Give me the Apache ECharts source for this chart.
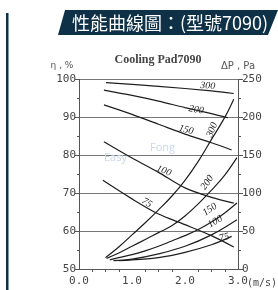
<!DOCTYPE html>
<html><head><meta charset="utf-8">
<script src="https://cdn.jsdelivr.net/npm/echarts@6/dist/echarts.min.js"></script>
<style>html,body{margin:0;padding:0;background:#fff}#c{width:278px;height:290px}</style>
</head><body><div id="c"></div>
<script>
// ---- data ----
const title = '性能曲線圖：(型號7090)';
const chartTitle = 'Cooling Pad7090';
const xTicks = [0, 1, 2, 3];
const effTicks = [50, 60, 70, 80, 90, 100];
const dpTicks = [0, 50, 100, 150, 200, 250];
// efficiency (%) vs face velocity (m/s), by pad thickness (mm)
const eff300 = [[0.51,99.2],[1.5,98.2],[2.5,97.0],[2.92,96.3]];
const eff200 = [[0.47,97.2],[1.0,95.8],[1.5,94.3],[2.0,92.6],[2.5,91.0],[2.81,89.9]];
const eff150 = [[0.47,93.3],[1.0,90.8],[1.5,88.2],[2.0,85.6],[2.5,83.3],[2.88,81.4]];
const eff100 = [[0.47,83.6],[1.0,79.3],[1.5,75.5],[2.0,71.4],[2.5,68.9],[2.92,67.4]];
const eff75  = [[0.45,73.4],[1.0,68.5],[1.5,64.5],[2.0,61.7],[2.5,58.8],[2.92,55.8]];
// pressure drop (Pa) vs face velocity (m/s)
const dp300 = [[0.5,15],[0.75,29],[1.0,45],[1.25,61],[1.5,78],[1.75,96],[2.0,117],[2.25,142],[2.5,171],[2.75,200],[2.92,224]];
const dp200 = [[0.52,14],[0.75,21],[1.0,30],[1.25,39],[1.5,48],[1.75,57],[2.0,70],[2.25,86],[2.5,104],[2.75,124],[2.98,147]];
const dp150 = [[0.58,12],[0.75,15],[1.0,19],[1.25,24],[1.5,30],[1.75,37],[2.0,44],[2.25,52],[2.5,62],[2.75,74],[2.98,87]];
const dp100 = [[0.65,11],[1.0,13],[1.5,20],[2.0,30],[2.5,45],[2.98,65]];
const dp75  = [[0.75,11],[1.0,12],[1.5,15],[2.0,22],[2.5,32],[2.88,43]];
// curve labels: [text, x(m/s), y(on % axis), rotation deg]
const curveLabels = [
  ['300',2.43,98.3,-5],['200',2.21,92.0,-10],['150',2.02,86.7,-15],['100',1.60,75.9,-22],['75',1.28,67.5,-32],
  ['300',2.51,86.7,68],['200',2.42,72.8,55],['150',2.47,65.7,35],['100',2.57,62.5,30],['75',2.74,58.3,15]
];

const C = '#1e1e1e';
function effSeries(d){return {type:'line',yAxisIndex:0,data:d,symbol:'none',smooth:0.3,lineStyle:{color:C,width:1.2},silent:true};}
function dpSeries(d){return {type:'line',yAxisIndex:1,data:d,symbol:'none',smooth:0.4,lineStyle:{color:C,width:1.2},silent:true};}

const chart = echarts.init(document.getElementById('c'), null, {renderer:'canvas'});
const axisFont = {fontFamily:'DejaVu Sans Mono', fontSize:11, color:'#444'};
chart.setOption({
  animation:false,
  grid:{left:79,right:40,top:79.5,bottom:21,containLabel:false},
  xAxis:{type:'value',min:0,max:3,interval:1,
    axisLine:{onZero:false,lineStyle:{color:'#555',width:1}},
    axisTick:{show:false},
    minorTick:{show:true,splitNumber:4,length:3,lineStyle:{color:'#555'}},
    splitLine:{show:false},
    axisLabel:Object.assign({margin:7,formatter:v=>v.toFixed(1)},axisFont)
  },
  yAxis:[
    {type:'value',min:50,max:100,interval:10,position:'left',
      axisLine:{show:true,lineStyle:{color:'#555',width:1}},
      axisTick:{show:true,length:4,lineStyle:{color:'#555'}},
      minorTick:{show:true,splitNumber:2,length:2,lineStyle:{color:'#555'}},
      splitLine:{show:true,lineStyle:{color:'#777',width:1}},
      axisLabel:Object.assign({margin:3},axisFont)},
    {type:'value',min:0,max:250,interval:50,position:'right',
      axisLine:{show:true,lineStyle:{color:'#555',width:1}},
      axisTick:{show:true,length:5,lineStyle:{color:'#555'}},
      minorTick:{show:true,splitNumber:2,length:3,lineStyle:{color:'#555'}},
      splitLine:{show:false},
      axisLabel:Object.assign({margin:4},axisFont)}
  ],
  series:[effSeries(eff300),effSeries(eff200),effSeries(eff150),effSeries(eff100),effSeries(eff75),
          dpSeries(dp300),dpSeries(dp200),dpSeries(dp150),dpSeries(dp100),dpSeries(dp75)]
});

const g = [];
// left accent bar
g.push({type:'rect',shape:{x:6,y:13,width:2.5,height:277},style:{fill:'#0e3147'},silent:true});
// title banner
g.push({type:'polygon',shape:{points:[[65,10],[278,10],[268,35],[58,35]]},style:{fill:'#0e3147'},silent:true});
g.push({type:'text',x:170,y:23,style:{text:title,fill:'#fff',font:'18px "Noto Sans CJK TC"',align:'center',verticalAlign:'middle'},silent:true});
// watermark
g.push({type:'text',x:104,y:158,style:{text:'Easy',fill:'#c9d6ea',font:'11px "Open Sans"',align:'left',verticalAlign:'middle'},silent:true});
g.push({type:'text',x:150,y:148,style:{text:'Fong',fill:'#c9d6ea',font:'11px "Open Sans"',align:'left',verticalAlign:'middle'},silent:true});
// headers
g.push({type:'text',x:158,y:60,style:{text:chartTitle,fill:'#444',font:'bold 12px "Liberation Serif"',align:'center',verticalAlign:'middle'},silent:true});
g.push({type:'text',x:62,y:66,style:{text:'η , %',fill:'#555',font:'9px "DejaVu Sans"',align:'center',verticalAlign:'middle'},silent:true});
g.push({type:'text',x:238,y:66,style:{text:'ΔP , Pa',fill:'#555',font:'10px "DejaVu Sans"',align:'center',verticalAlign:'middle'},silent:true});
const p3 = chart.convertToPixel({xAxisIndex:0,yAxisIndex:0},[3,50]);
g.push({type:'text',x:p3[0]+9,y:p3[1]+14,style:{text:'(m/s)',fill:'#444',font:'10px "DejaVu Sans Mono"',align:'left',verticalAlign:'middle'},silent:true});
curveLabels.forEach(([t,x,y,r])=>{
  const p = chart.convertToPixel({xAxisIndex:0,yAxisIndex:0},[x,y]);
  g.push({type:'text',x:p[0],y:p[1],rotation:r*Math.PI/180,style:{text:t,fill:'#222',font:'italic 10px "Liberation Serif"',align:'center',verticalAlign:'middle'},silent:true});
});
chart.setOption({graphic:g});
</script></body></html>
